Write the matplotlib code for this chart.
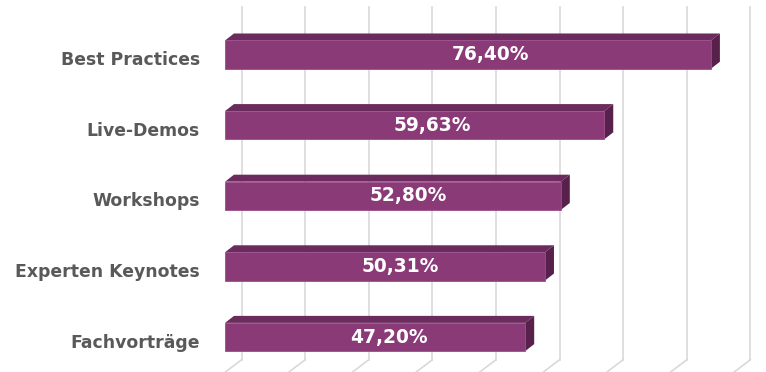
import matplotlib
matplotlib.use("Agg")
import matplotlib.pyplot as plt
from matplotlib.patches import Polygon
from matplotlib.transforms import ScaledTranslation

categories = ["Fachvorträge", "Experten Keynotes", "Workshops", "Live-Demos", "Best Practices"]
values = [47.20, 50.31, 52.80, 59.63, 76.40]
value_labels = ["47,20%", "50,31%", "52,80%", "59,63%", "76,40%"]
grid_ticks = [0, 10, 20, 30, 40, 50, 60, 70, 80]

W, H = 766, 372
DPI = 100
fig = plt.figure(figsize=(W / DPI, H / DPI), dpi=DPI)

# front plane axes: x 0..80 maps px 225..733.8, y -0.5..4.5 maps px 372.3..19.3
x0_px, x1_px = 225, 225 + 6.36 * 80
ytop_px, ybot_px = 19.3, 372.3
ax = fig.add_axes([x0_px / W, (H - ybot_px) / H, (x1_px - x0_px) / W, (ybot_px - ytop_px) / H])
ax.set_xlim(0, 80)
ax.set_ylim(-0.5, 4.5)
ax.axis("off")

px_x = (x1_px - x0_px) / 80.0
px_y = (ybot_px - ytop_px) / 5.0

# back plane gridlines (floor depth)
floor_dx, floor_dy = 16.5, 12.5
back = ax.transData + ScaledTranslation(floor_dx / DPI, floor_dy / DPI, fig.dpi_scale_trans)
grid_col = "#d9d9d9"
for v in grid_ticks:
    ax.plot([v, v], [-0.5, 4.5], color=grid_col, lw=1.2, transform=back, clip_on=False, zorder=1)
    bx, by = [v + floor_dx / px_x, v], [-0.5 + floor_dy / px_y, -0.5]
    ax.plot(bx, by, color=grid_col, lw=1.2, clip_on=False, zorder=1)

front_col = "#8b3a78"
top_col = "#6b2c5d"
side_col = "#57214b"
edge_col = "#9c4d8b"
bar_h = 0.40
bdx, bdy = 9.0 / px_x, 7.0 / px_y

ypos = list(range(len(categories)))
for y, v in zip(ypos, values):
    yt, yb = y + bar_h / 2, y - bar_h / 2
    top = Polygon([(0, yt), (v, yt), (v + bdx, yt + bdy), (bdx, yt + bdy)], closed=True,
                  facecolor=top_col, edgecolor="none", zorder=3, clip_on=False)
    side = Polygon([(v, yb), (v, yt), (v + bdx, yt + bdy), (v + bdx, yb + bdy)], closed=True,
                   facecolor=side_col, edgecolor="none", zorder=3, clip_on=False)
    ax.add_patch(top)
    ax.add_patch(side)
ax.barh(ypos, values, height=bar_h, left=0, color=front_col, edgecolor=edge_col, linewidth=0.6, zorder=4)

for y, v, lab in zip(ypos, values, value_labels):
    ax.text(v * 0.547, y, lab, ha="center", va="center", color="white", fontsize=13.4,
            fontweight="bold", family="DejaVu Sans", zorder=5)

for y, c in zip(ypos, categories):
    ax.text(-25 / px_x, y - 0.08, c, ha="right", va="center", color="#595959", fontsize=12.4,
            fontweight="bold", family="DejaVu Sans", clip_on=False)

fig.savefig("out.png", dpi=DPI)
